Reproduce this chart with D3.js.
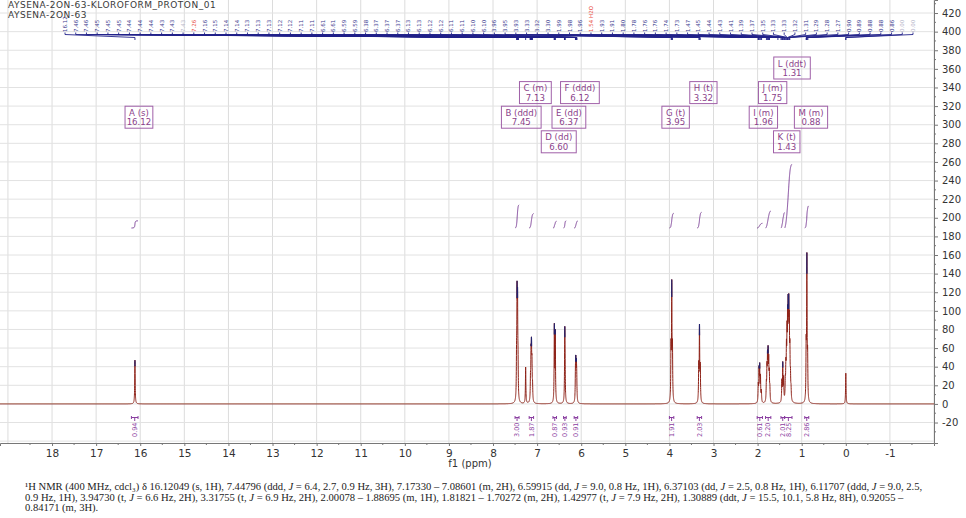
<!DOCTYPE html>
<html><head><meta charset="utf-8">
<script src="https://cdn.jsdelivr.net/npm/d3@7"></script>
<style>
body{margin:0;background:#fff}
svg{display:block}
</style>
</head><body>
<svg id="c" width="966" height="518" font-family="DejaVu Sans, sans-serif"></svg>
<script>
// ---------------- data ----------------
const titleLines = ["AYSENA-2ON-63-KLOROFORM_PROTON_01", "AYSENA-2ON-63"];
const xTickValues = d3.range(-1, 19);          // ppm tick labels
const yTickValues = d3.range(-20, 421, 20);    // intensity tick labels

// individual resonance lines (ppm, height)
const linePpm = [16.120,
  7.466, 7.455, 7.444, 7.433,
  7.260,
  7.150, 7.138, 7.128, 7.117, 7.104,
  6.609, 6.588,
  6.373, 6.366,
  6.131, 6.123, 6.110, 6.102,
  3.964, 3.947, 3.931,
  3.335, 3.318, 3.300,
  1.985, 1.968, 1.953, 1.935, 1.915,
  1.802, 1.788, 1.775, 1.762, 1.748, 1.735, 1.722,
  1.450, 1.430, 1.410,
  1.372, 1.359, 1.346, 1.333, 1.320, 1.307, 1.294, 1.281, 1.268, 1.255, 1.242,
  0.899, 0.883, 0.866,
  0.000];
const lineHeight = [47,
  38, 100, 92, 33,
  39,
  22, 43, 50, 35, 15,
  81, 74,
  70, 30,
  25, 36, 33, 22,
  55, 121, 53,
  37, 78, 36,
  18, 33, 36, 26, 12,
  17, 32, 41, 46, 38, 26, 13,
  22, 40, 24,
  18, 31, 45, 59, 72, 81, 83, 70, 45, 22, 11,
  54, 151, 44,
  33];

// peak-picking labels along the top
const peakLabels = ["16.12",
  "7.46","7.46","7.45","7.45","7.45","7.44","7.44","7.44","7.43","7.43","7.43",
  "7.26",
  "7.16","7.15","7.14","7.14","7.13","7.13","7.13","7.12","7.12","7.11","7.11",
  "6.61","6.61","6.59","6.59","6.38","6.37","6.37","6.37",
  "6.13","6.13","6.12","6.12","6.11","6.11","6.10","6.10",
  "3.96","3.95","3.93","3.33","3.32","3.30","1.99","1.98","1.96",
  "1.54 H2O",
  "1.93","1.91","1.80","1.78","1.76","1.76","1.74","1.73",
  "1.47","1.45","1.44","1.43","1.41","1.39","1.37","1.35",
  "1.33","1.33","1.32","1.31","1.29","1.28","1.27",
  "0.90","0.89","0.88","0.88","0.86","0.00","0.00"];
const solventLabels = ["7.26", "1.54 H2O"];
const faintLabels = [11, 78, 79];

// multiplet annotations
const multName  = ["A","B","C","D","E","F","G","H","I","J","K","L","M"];
const multType  = ["s","ddd","m","dd","dd","ddd","t","t","m","m","t","ddt","m"];
const multShift = ["16.12","7.45","7.13","6.60","6.37","6.12","3.95","3.32","1.96","1.75","1.43","1.31","0.88"];

// integrals
const integralFrom  = [16.20, 7.50, 7.18, 6.64, 6.40, 6.16, 4.00, 3.37, 2.01, 1.82, 1.47, 1.385, 0.93];
const integralTo    = [16.05, 7.41, 7.08, 6.56, 6.34, 6.08, 3.90, 3.27, 1.89, 1.70, 1.39, 1.22, 0.84];
const integralValue = [0.94, 3.00, 1.87, 0.87, 0.93, 0.91, 1.91, 2.03, 0.61, 2.20, 2.01, 8.25, 2.86];

const captionLines = [
  ["¹H NMR (400 MHz, cdcl₃) δ 16.12049 (s, 1H), 7.44796 (ddd, ", "J", " = 6.4, 2.7, 0.9 Hz, 3H), 7.17330 – 7.08601 (m, 2H), 6.59915 (dd, ", "J", " = 9.0, 0.8 Hz, 1H), 6.37103 (dd, ", "J", " = 2.5, 0.8 Hz, 1H), 6.11707 (ddd, ", "J", " = 9.0, 2.5,"],
  ["0.9 Hz, 1H), 3.94730 (t, ", "J", " = 6.6 Hz, 2H), 3.31755 (t, ", "J", " = 6.9 Hz, 2H), 2.00078 – 1.88695 (m, 1H), 1.81821 – 1.70272 (m, 2H), 1.42977 (t, ", "J", " = 7.9 Hz, 2H), 1.30889 (ddt, ", "J", " = 15.5, 10.1, 5.8 Hz, 8H), 0.92055 –"],
  ["0.84171 (m, 3H)."]
];

// ---------------- drawing ----------------
const svg = d3.select("#c");
const plotRight = 934, plotBottom = 443;
const x = d3.scaleLinear().domain([19.18, -2]).range([0, plotRight]);
const y = d3.scaleLinear().domain([-42, 434]).range([plotBottom, 0]);
const hyph = d => String(d).replace("\u2212", "-");

// grid
const grid = svg.append("g");
grid.selectAll("line.v").data(d3.range(-2, 20)).join("line")
  .attr("x1", d => x(d)).attr("x2", d => x(d)).attr("y1", 0).attr("y2", plotBottom)
  .attr("stroke", "#dcdcdc").attr("stroke-width", 1);
grid.selectAll("line.h").data(d3.range(-40, 435, 20)).join("line")
  .attr("x1", 0).attr("x2", plotRight).attr("y1", d => y(d)).attr("y2", d => y(d))
  .attr("stroke", "#e2e2e2").attr("stroke-width", 1);

// spectrum
const hw = 0.006, step = 0.001;
const pts = [];
for (let i = 0; ; i++) {
  const p = 19.18 - i * step;
  if (p < -2) break;
  let v = 0;
  for (let j = 0; j < linePpm.length; j++) {
    const d = (p - linePpm[j]) / hw;
    v += lineHeight[j] / (1 + d * d);
  }
  pts.push([p, v]);
}
const line = d3.line().x(d => x(d[0])).y(d => y(d[1]));
svg.append("path").attr("d", line(pts)).attr("fill", "none")
  .attr("stroke", "#8e2218").attr("stroke-width", 1);

// navy tops of the multiplets
const defs = svg.append("defs");
integralFrom.forEach((f, i) => {
  const t = integralTo[i];
  const seg = pts.filter(d => d[0] <= f && d[0] >= t);
  const mx = d3.max(seg, d => d[1]);
  const thr = mx * 0.86;
  defs.append("clipPath").attr("id", "top" + i).append("rect")
    .attr("x", x(f)).attr("width", x(t) - x(f)).attr("y", 0).attr("height", y(thr));
  svg.append("path").attr("d", line(seg)).attr("fill", "none")
    .attr("stroke", "#22226e").attr("stroke-width", 1.1).attr("clip-path", `url(#top${i})`);
});

// integrals
const intBase = 189, intScale = 8.3;
integralFrom.forEach((f, i) => {
  const t = integralTo[i];
  const seg = pts.filter(d => d[0] <= f && d[0] >= t);
  const tot = d3.sum(seg, d => d[1]);
  let c = 0;
  const cum = seg.map(d => { c += d[1]; return [d[0], intBase + c / tot * integralValue[i] * intScale]; });
  svg.append("path").attr("d", line(cum)).attr("fill", "none")
    .attr("stroke", "#7a3c96").attr("stroke-width", 1);
  const xc = x((f + t) / 2);
  const g = svg.append("g").attr("stroke", "#8a3ea0").attr("fill", "none").attr("stroke-width", 1);
  g.append("path").attr("d", `M${x(f)},417.5 L${x(t)},417.5 M${x(f)},416 L${x(f)},419 M${x(t)},416 L${x(t)},419 M${xc},417.5 L${xc},421`);
  svg.append("text").attr("transform", `translate(${xc + 2.3},${437}) rotate(-90)`)
    .attr("font-size", 6.5).attr("fill", "#8a3ea0").text(integralValue[i].toFixed(2));
});

// bottom axis
const xAxis = d3.axisBottom(x).tickValues(xTickValues).tickSize(3).tickPadding(4).tickFormat(d => hyph(d3.format("d")(d)));
const gx = svg.append("g").attr("transform", `translate(0,${plotBottom})`).call(xAxis);
gx.attr("font-family", null);
gx.select(".domain").attr("stroke", "#777");
gx.selectAll(".tick line").attr("stroke", "#777");
gx.selectAll("text").attr("font-size", 10.5).attr("fill", "#333");
svg.append("g").attr("transform", `translate(0,${plotBottom})`)
  .selectAll("line").data(d3.range(-1.5, 19, 1)).join("line")
  .attr("x1", d => x(d)).attr("x2", d => x(d)).attr("y1", 0).attr("y2", 2).attr("stroke", "#777");
svg.append("text").attr("x", 470).attr("y", 467).attr("text-anchor", "middle")
  .attr("font-size", 10).attr("fill", "#333").text("f1 (ppm)");

// right axis
const yAxis = d3.axisRight(y).tickValues(yTickValues).tickSize(4).tickPadding(4).tickFormat(d => hyph(d));
const gy = svg.append("g").attr("transform", `translate(${plotRight},0)`).call(yAxis);
gy.attr("font-family", null);
gy.select(".domain").attr("stroke", "#777");
gy.selectAll(".tick line").attr("stroke", "#777");
gy.selectAll("text").attr("font-size", 10).attr("fill", "#333");
svg.append("g").attr("transform", `translate(${plotRight},0)`)
  .selectAll("line").data(d3.range(-30, 431, 20)).join("line")
  .attr("x1", 0).attr("x2", 2).attr("y1", d => y(d)).attr("y2", d => y(d)).attr("stroke", "#777");

// multiplet boxes
const boxRow = {A:2, B:2, C:1, D:3, E:2, F:1, G:2, H:1, I:2, J:1, K:3, L:0, M:2};
multName.forEach((n, i) => {
  const cx = x(+multShift[i]) + 4;
  const top = 57 + boxRow[n] * 24.6;
  const g = svg.append("g");
  const t1 = g.append("text").attr("x", cx).attr("y", top + 9.5).attr("text-anchor", "middle")
    .attr("font-size", 8.6).attr("fill", "#8b3f8b").text(`${n} (${multType[i]})`);
  g.append("text").attr("x", cx).attr("y", top + 19).attr("text-anchor", "middle")
    .attr("font-size", 8.6).attr("fill", "#8b3f8b").text(multShift[i]);
  const wdt = t1.node().getComputedTextLength() + 8;
  g.insert("rect", "text").attr("x", cx - wdt / 2).attr("y", top).attr("width", wdt).attr("height", 22)
    .attr("fill", "none").attr("stroke", "#a060a8").attr("stroke-width", 1);
});

// peak labels on top with connectors
const n = peakLabels.length;
const lx = i => 65 + i * (913 - 65) / (n - 1);
const conn = svg.append("g").attr("fill", "none").attr("stroke", "#23238a").attr("stroke-width", 0.9);
peakLabels.forEach((lab, i) => {
  const p = parseFloat(lab);
  conn.append("path").attr("d", `M${lx(i)},32.5 L${lx(i)},34.5 L${x(p)},37.5 L${x(p)},40`);
});
peakLabels.forEach((lab, i) => {
  const col = solventLabels.includes(lab) ? "#e84a3e" : (faintLabels.includes(i) ? "#b9b9cc" : "#3a3a8e");
  svg.append("text").attr("transform", `translate(${lx(i) + 2},32) rotate(-90)`)
    .attr("font-size", 5.5).attr("fill", col).text(lab);
});

// title
titleLines.forEach((t, i) => {
  svg.append("text").attr("x", 8).attr("y", 8 + i * 10.3).attr("font-size", 9)
    .attr("letter-spacing", 0.5).attr("fill", "#3a3a3a").text(t);
});

// caption (serif); one font size, fitted so the first line spans the reference width
const capTexts = captionLines.map((parts, i) => {
  const t = svg.append("text").attr("x", 25).attr("y", 490 + i * 10.6)
    .attr("font-family", "Liberation Serif, serif").attr("font-size", 10).attr("fill", "#222");
  parts.forEach(s => {
    const ts = t.append("tspan").text(s);
    if (s === "J") ts.attr("font-style", "italic");
  });
  return t;
});
const capFs = 10 * 898 / capTexts[0].node().getComputedTextLength();
capTexts.forEach(t => t.attr("font-size", capFs));
</script>
</body></html>
